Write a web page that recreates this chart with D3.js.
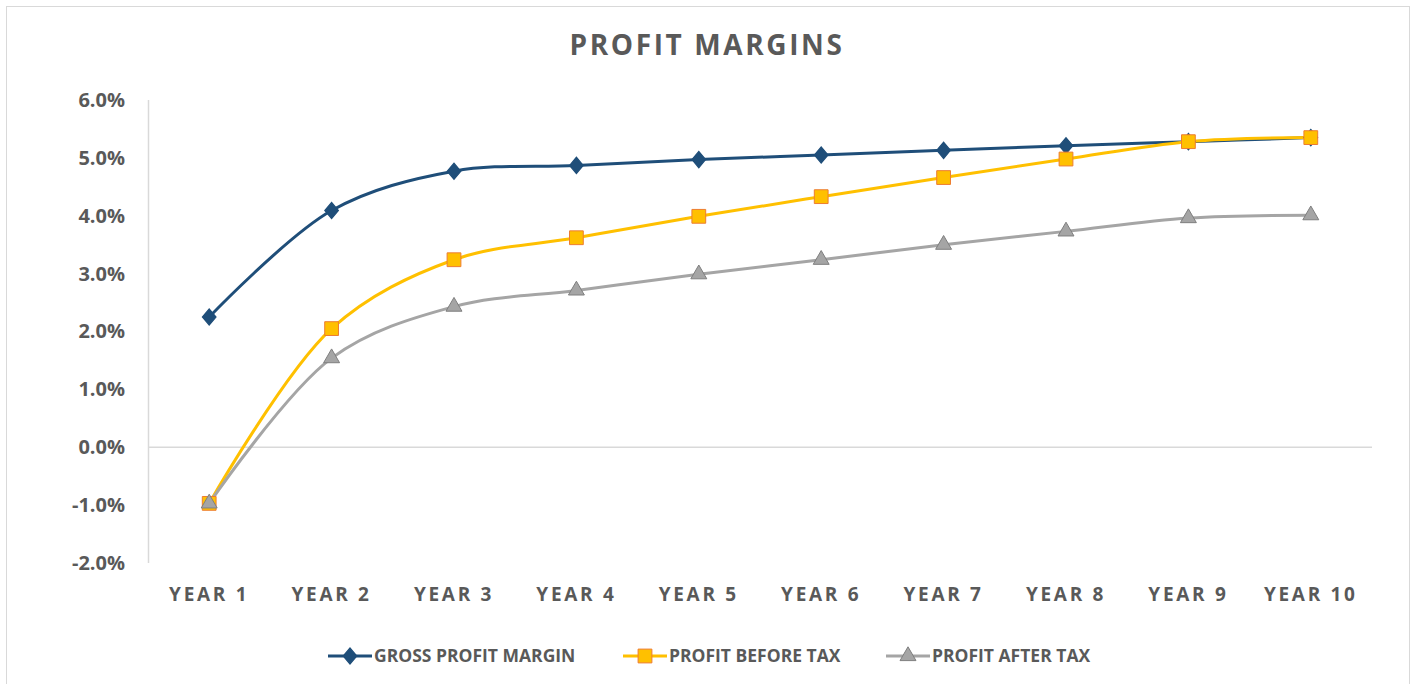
<!DOCTYPE html>
<html>
<head>
<meta charset="utf-8">
<script src="https://cdn.jsdelivr.net/npm/d3@7"></script>
<style>
  body { margin: 0; background: #fff; }
  text { font-family: "Open Sans", "DejaVu Sans", sans-serif; fill: #595959; font-weight: 700; }
</style>
</head>
<body>
<svg width="1416" height="684"></svg>
<script>
// data
const years = ["YEAR 1","YEAR 2","YEAR 3","YEAR 4","YEAR 5","YEAR 6","YEAR 7","YEAR 8","YEAR 9","YEAR 10"];
const grossMargin = [2.25, 4.09, 4.77, 4.87, 4.97, 5.05, 5.13, 5.21, 5.28, 5.35];
const profitBeforeTax = [-0.97, 2.05, 3.24, 3.62, 3.99, 4.33, 4.66, 4.98, 5.28, 5.35];
const profitAfterTax = [-0.97, 1.54, 2.43, 2.71, 2.99, 3.24, 3.50, 3.73, 3.96, 4.01];
const yTicks = [-2, -1, 0, 1, 2, 3, 4, 5, 6];

const svg = d3.select("svg");

// outer chart border
svg.append("rect")
  .attr("x", 6.5).attr("y", 6.5)
  .attr("width", 1403).attr("height", 690)
  .style("fill", "none").style("stroke", "#d9d9d9");

svg.append("text")
  .attr("x", 707).attr("y", 55)
  .attr("text-anchor", "middle")
  .style("font-size", "28px")
  .style("letter-spacing", "2.6px")
  .text("PROFIT MARGINS");

xScale = d3.scaleBand().domain(years).range([148, 1372]);
yScale = d3.scaleLinear().domain([-2, 6]).range([563, 100]);
const xc = d => xScale(d) + xScale.bandwidth() / 2;

// y axis: labels only, plus vertical line
yAxis = d3.axisLeft(yScale)
  .tickValues(yTicks)
  .tickSize(0)
  .tickPadding(23)
  .tickFormat(d => d.toFixed(1) + "%");

svg.append("g")
  .attr("id", "yAxisG")
  .attr("transform", "translate(148,0)")
  .call(yAxis)
  .call(g => g.select(".domain").remove())
  .selectAll("text")
    .style("font-size", "20px")
    .style("font-family", "'Open Sans', sans-serif")
    .style("font-weight", 700)
    .style("fill", "#595959");

svg.append("line")
  .attr("x1", 148.5).attr("x2", 148.5)
  .attr("y1", yScale(6)).attr("y2", yScale(-2))
  .style("stroke", "#d9d9d9").style("stroke-width", 1.5);

// zero line
svg.append("line")
  .attr("x1", 148).attr("x2", 1372)
  .attr("y1", yScale(0)).attr("y2", yScale(0))
  .style("stroke", "#d9d9d9").style("stroke-width", 1.5);

// x axis labels
xAxis = d3.axisBottom(xScale).tickSize(0).tickPadding(25);
svg.append("g")
  .attr("id", "xAxisG")
  .attr("transform", `translate(0,${yScale(-2)})`)
  .call(xAxis)
  .call(g => g.select(".domain").remove())
  .selectAll("text")
    .style("font-size", "19px")
    .style("font-family", "'Open Sans', sans-serif")
    .style("font-weight", 700)
    .style("letter-spacing", "2.7px")
    .style("fill", "#595959");

const series = [
  { name: "GROSS PROFIT MARGIN", values: grossMargin, color: "#1f4e79", stroke: "#1f4e79", symbol: d3.symbolDiamond, size: 75, mfill: "#1f4e79" },
  { name: "PROFIT BEFORE TAX", values: profitBeforeTax, color: "#ffc000", stroke: "#ed7d31", symbol: d3.symbolSquare, size: 190, mfill: "#ffc000" },
  { name: "PROFIT AFTER TAX", values: profitAfterTax, color: "#a5a5a5", stroke: "#7f7f7f", symbol: d3.symbolTriangle, size: 110, mfill: "#a5a5a5" }
];

const line = d3.line()
  .x((d, i) => xc(years[i]))
  .y(d => yScale(d))
  .curve(d3.curveCatmullRom.alpha(0.5));

series.forEach(s => {
  svg.append("path")
    .datum(s.values)
    .attr("d", line)
    .style("fill", "none")
    .style("stroke", s.color)
    .style("stroke-width", 3);
});

series.forEach(s => {
  svg.selectAll(null)
    .data(s.values)
    .enter()
    .append("path")
      .attr("d", d3.symbol().type(s.symbol).size(s.size))
      .attr("transform", (d, i) => `translate(${xc(years[i])},${yScale(d)})` + (s.symbol === d3.symbolDiamond ? " scale(1.45,1)" : ""))
      .style("fill", s.mfill)
      .style("stroke", s.stroke)
      .style("stroke-width", 1);
});

// legend
const legendX = [328, 623, 886];
const leg = svg.selectAll("g.legend")
  .data(series)
  .enter()
  .append("g")
  .attr("class", "legend")
  .attr("transform", (d, i) => `translate(${legendX[i]},656)`);

leg.append("line")
  .attr("x1", 0).attr("x2", 44)
  .style("stroke", d => d.color)
  .style("stroke-width", 3);
leg.append("path")
  .attr("d", d => d3.symbol().type(d.symbol).size(d.size)())
  .attr("transform", d => "translate(22,0)" + (d.symbol === d3.symbolDiamond ? " scale(1.45,1)" : ""))
  .style("fill", d => d.mfill)
  .style("stroke", d => d.stroke);
leg.append("text")
  .attr("x", 46).attr("y", 6)
  .style("font-size", "17.5px")
  .style("font-family", "'Open Sans', sans-serif")
  .style("letter-spacing", "0px")
  .text(d => d.name);
</script>
</body>
</html>
